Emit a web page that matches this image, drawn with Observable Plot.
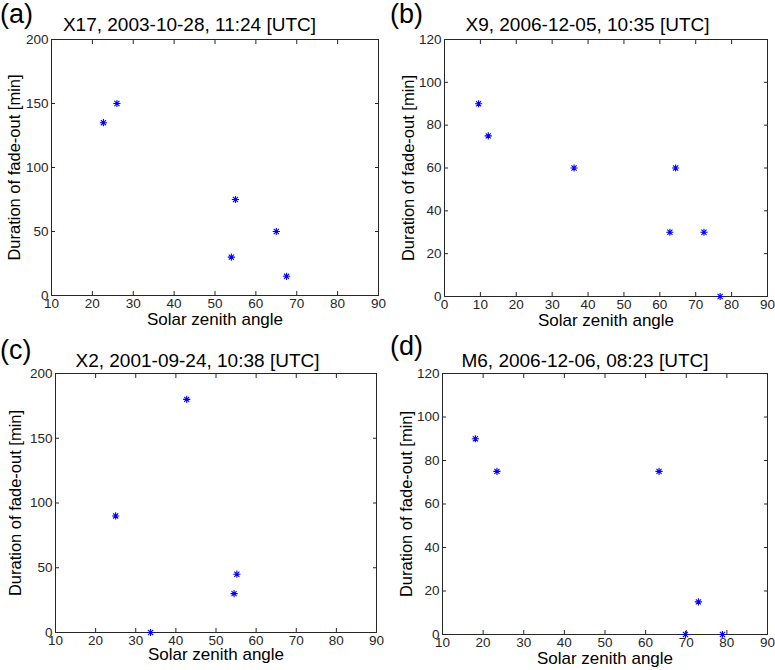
<!DOCTYPE html>
<html><head><meta charset="utf-8">
<script src="https://cdn.jsdelivr.net/npm/d3@7"></script>
<script src="https://cdn.jsdelivr.net/npm/@observablehq/plot@0.6"></script>
<style>
body{margin:0;background:#fff;}
#wrap{position:relative;width:775px;height:670px;overflow:hidden;font-family:"Liberation Sans",Arial,sans-serif;color:#000;background:#fff;}
.panel{position:absolute;}
.lbl{position:absolute;font-size:27px;line-height:27px;white-space:nowrap;}
.ttl{position:absolute;font-size:19px;line-height:19px;white-space:nowrap;transform:translateX(-50%);}
</style></head><body><div id="wrap"></div>
<script>
// ---- data ----
const panelLetters = ["(a)", "(b)", "(c)", "(d)"];
const titles = ["X17, 2003-10-28, 11:24 [UTC]", "X9, 2006-12-05, 10:35 [UTC]", "X2, 2001-09-24, 10:38 [UTC]", "M6, 2006-12-06, 08:23 [UTC]"];
const xLabel = "Solar zenith angle";
const yLabel = "Duration of fade-out [min]";

const zenithA = [22.7, 26, 55, 65, 54, 67.5];
const durationA = [135, 150, 75, 50, 30, 15];
const zenithB = [9.5, 12.2, 36.1, 64.4, 62.8, 72.3, 76.8];
const durationB = [90, 75, 60, 60, 30, 30, 0];
const zenithC = [25, 42.7, 55.2, 54.5, 33.7];
const durationC = [90, 180, 45, 30, 0];
const zenithD = [18.1, 23.4, 63.3, 73, 69.8, 78.9];
const durationD = [90, 75, 75, 15, 0, 0];

const xTicks10 = [10, 20, 30, 40, 50, 60, 70, 80, 90];
const xTicks0 = [0, 10, 20, 30, 40, 50, 60, 70, 80, 90];
const yTicks200 = [0, 50, 100, 150, 200];
const yTicks120 = [0, 20, 40, 60, 80, 100, 120];

// ---- layout ----
const panels = [
  {zen: zenithA, dur: durationA, xd: [10, 90], xt: xTicks10, yd: [0, 200], yt: yTicks200,
   left: 0, top: 0, w: 388, h: 335, ml: 51, mr: 10, mt: 39, mb: 40, lx: 0, ly: 1, tx: 189.5, ty: 15, xdy: 29, ydx: -37},
  {zen: zenithB, dur: durationB, xd: [0, 90], xt: xTicks0, yd: [0, 120], yt: yTicks120,
   left: 390, top: 0, w: 385, h: 335, ml: 54, mr: 8, mt: 39, mb: 39, lx: 390, ly: 1, tx: 587.5, ty: 15, xdy: 29, ydx: -36},
  {zen: zenithC, dur: durationC, xd: [10, 90], xt: xTicks10, yd: [0, 200], yt: yTicks200,
   left: 0, top: 335, w: 388, h: 335, ml: 55, mr: 12, mt: 38, mb: 38, lx: 0, ly: 337, tx: 197.5, ty: 351, xdy: 27, ydx: -40},
  {zen: zenithD, dur: durationD, xd: [10, 90], xt: xTicks10, yd: [0, 120], yt: yTicks120,
   left: 390, top: 335, w: 385, h: 335, ml: 52, mr: 8, mt: 38, mb: 36, lx: 390, ly: 333, tx: 585, ty: 351, xdy: 29, ydx: -36}
];

// MATLAB-like 8-armed asterisk
const star8 = {
  draw(ctx, size) {
    const r = Math.sqrt(size / Math.PI);
    const d = r * Math.SQRT1_2;
    ctx.moveTo(-r, 0); ctx.lineTo(r, 0);
    ctx.moveTo(0, -r); ctx.lineTo(0, r);
    ctx.moveTo(-d, -d); ctx.lineTo(d, d);
    ctx.moveTo(-d, d); ctx.lineTo(d, -d);
  }
};

const wrap = document.getElementById("wrap");
panels.forEach((p, i) => {
  const data = p.zen.map((x, j) => ({x, y: p.dur[j]}));
  const chart = Plot.plot({
    width: p.w, height: p.h,
    marginLeft: p.ml, marginRight: p.mr, marginTop: p.mt, marginBottom: p.mb,
    style: {fontFamily: "'Liberation Sans', Arial, sans-serif", fontSize: "13.5px", color: "#262626", background: "transparent", overflow: "visible"},
    x: {domain: p.xd},
    y: {domain: p.yd},
    marks: [
      Plot.frame({stroke: "#262626"}),
      Plot.axisX(p.xt, {anchor: "bottom", tickSize: -4, tickPadding: 7, label: null}),
      Plot.axisX(p.xt, {anchor: "top", tickSize: -4, fill: "none", label: null}),
      Plot.axisY(p.yt, {anchor: "left", tickSize: -4, tickPadding: 7, label: null}),
      Plot.axisY(p.yt, {anchor: "right", tickSize: -4, fill: "none", label: null}),
      Plot.dot(data, {x: "x", y: "y", symbol: star8, r: 3.6, stroke: "#0000ff", strokeWidth: 1.1}),
      Plot.text([xLabel], {text: d => d, frameAnchor: "bottom", dy: p.xdy, fontSize: 17, fill: "#000"}),
      Plot.text([yLabel], {text: d => d, frameAnchor: "left", textAnchor: "middle", dx: p.ydx, rotate: -90, fontSize: 16.5, fill: "#000"})
    ]
  });
  const div = document.createElement("div");
  div.className = "panel";
  div.style.left = p.left + "px";
  div.style.top = p.top + "px";
  div.appendChild(chart);
  wrap.appendChild(div);

  const lbl = document.createElement("div");
  lbl.className = "lbl";
  lbl.textContent = panelLetters[i];
  lbl.style.left = p.lx + "px";
  lbl.style.top = p.ly + "px";
  wrap.appendChild(lbl);

  const ttl = document.createElement("div");
  ttl.className = "ttl";
  ttl.textContent = titles[i];
  ttl.style.left = p.tx + "px";
  ttl.style.top = p.ty + "px";
  wrap.appendChild(ttl);
});
</script>
</body></html>
